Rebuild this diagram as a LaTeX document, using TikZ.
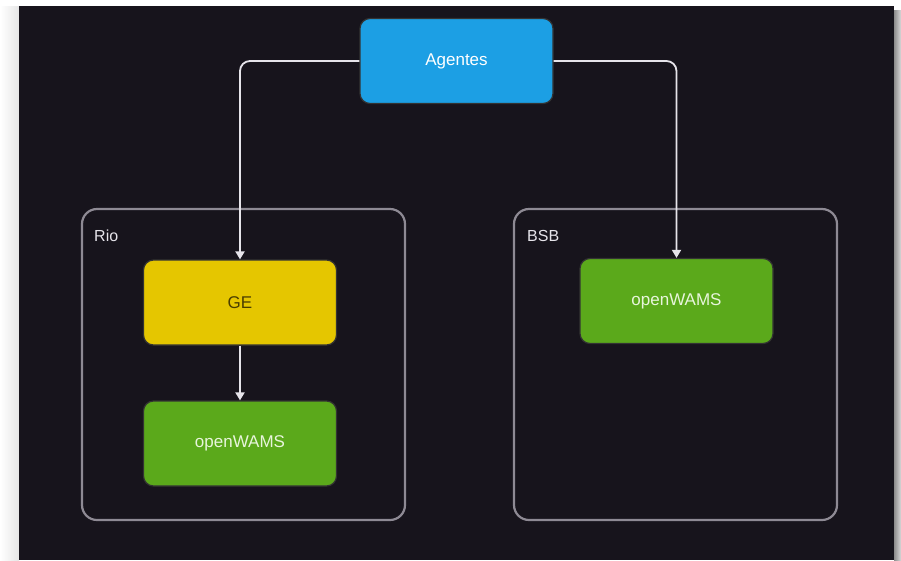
\documentclass[tikz,border=0pt]{standalone}
\usepackage{fontspec}
\setmainfont{Liberation Sans}
\usetikzlibrary{arrows.meta}
\definecolor{darkbg}{HTML}{17141C}
\definecolor{agblue}{HTML}{1C9FE4}
\definecolor{geyellow}{HTML}{E5C600}
\definecolor{owgreen}{HTML}{5BA91B}
\definecolor{grpline}{HTML}{8E8A94}
\definecolor{linecol}{HTML}{E6E4EA}
\definecolor{getext}{HTML}{4A3E00}
\definecolor{owtext}{HTML}{E8F5DC}
\tikzset{
  box/.style={rectangle, rounded corners=10pt, minimum width=193pt, minimum height=85pt,
    draw=black!80, line width=1.2pt, font=\fontsize{17}{20}\selectfont, inner sep=0pt},
  grp/.style={rectangle, rounded corners=15pt, draw=grpline, line width=2.2pt,
    minimum width=323pt, minimum height=311pt, inner sep=0pt},
  grplabel/.style={anchor=west, text=linecol, font=\fontsize{16}{19}\selectfont, inner sep=0pt},
  conn/.style={draw=linecol, line width=1.8pt, rounded corners=10pt,
    -{Triangle[length=8pt,width=9pt]}}
}
\begin{document}
\begin{tikzpicture}[x=1pt,y=-1pt]
\useasboundingbox (0,0) rectangle (901,560);
\fill[white] (0,0) rectangle (901,560);
\shade[left color=white, right color=black!10] (0,6) rectangle (19,560);
\shade[left color=black!45, right color=black!15] (894,10) rectangle (901,560);
\fill[darkbg] (19,6) rectangle (894,560);

\node[grp] (rio) at (243.5,364.5) {};
\node[grp] (bsb) at (675.5,364.5) {};
\node[grplabel] (riol) at (94,236) {Rio};
\node[grplabel] (bsbl) at (527,236) {BSB};

\node[box, fill=agblue, text=white] (ag) at (456.5,61) {Agentes};
\node[box, fill=geyellow, text=getext] (ge) at (240,302.5) {GE};
\node[box, fill=owgreen, text=owtext] (ow1) at (240,443.5) {openWAMS};
\node[box, fill=owgreen, text=owtext] (ow2) at (676.5,301) {openWAMS};

\draw[conn] (ag.west) -| (ge.north);
\draw[conn] (ag.east) -| (ow2.north);
\draw[conn] (ge.south) -- (ow1.north);
\end{tikzpicture}
\end{document}
